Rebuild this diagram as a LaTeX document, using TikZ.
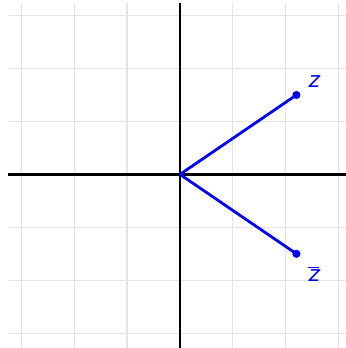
\documentclass[tikz,border=0pt]{standalone}
\usetikzlibrary{positioning}
\definecolor{gridGray}{HTML}{E4E4E4}
\definecolor{vecBlue}{HTML}{0000FF}
\tikzset{
gridline/.style={gridGray, line width=0.6pt},
axis/.style={black, line width=1.2pt},
vec/.style={vecBlue, line width=1.5pt},
dot/.style={circle, fill=vecBlue, inner sep=0pt, minimum size=4.4pt},
lbl/.style={text=vecBlue, font=\Large\sffamily\itshape, inner sep=1pt}
}
\begin{document}
\begin{tikzpicture}
\useasboundingbox (-3.40,-3.28) rectangle (3.12,3.295);
% grid
\foreach \x in {-3,...,3}{
\draw[gridline] (\x,-3.3) -- (\x,3.24);
}
\foreach \y in {-3,...,3}{
\draw[gridline] (-3.25,\y) -- (3.2,\y);
}
% axes
\coordinate (xl) at (-3.25,0);
\coordinate (xr) at (3.2,0);
\coordinate (yb) at (0,-3.3);
\coordinate (yt) at (0,3.24);
\coordinate (o) at (0,0);
\draw[axis] (xl) -- (xr);
\draw[axis] (yb) -- (yt);
% z and its conjugate
\node[dot] (z) at (2.2,1.5) {};
\node[dot] (zbar) at (2.2,-1.5) {};
\draw[vec] (o) -- (z.center);
\draw[vec] (o) -- (zbar.center);
\node[lbl, above right=0.04cm and 0.11cm of z] (zlabel) {z};
\node[lbl, below right=0.13cm and 0.11cm of zbar] (zbarlabel) {$\overline{\hbox{\Large\sffamily\itshape z}}$};
\end{tikzpicture}
\end{document}
